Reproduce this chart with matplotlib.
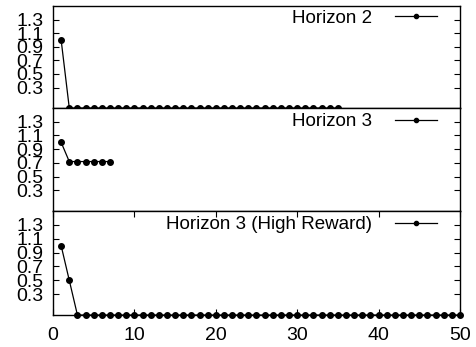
import matplotlib
matplotlib.use("Agg")
import matplotlib.pyplot as plt
import numpy as np

plt.rcParams["font.family"] = ["Liberation Sans", "DejaVu Sans"]

# horizon 2
x_h2 = list(range(1, 36))
y_h2 = [1.0] + [0.0] * 34
# horizon 3
x_h3 = list(range(1, 8))
y_h3 = [1.0, 0.72, 0.72, 0.72, 0.72, 0.72, 0.72]
# horizon 3, high reward
x_h3r = list(range(1, 51))
y_h3r = [1.0, 0.5] + [0.0] * 48

labels = ["Horizon 2", "Horizon 3", "Horizon 3 (High Reward)"]
yticks = [0.3, 0.5, 0.7, 0.9, 1.1, 1.3]
xticks = [0, 10, 20, 30, 40, 50]


def main():
    W, H = 477, 347
    fig = plt.figure(figsize=(W / 100, H / 100), dpi=100)
    left, right = 53, 460
    tops = [6, 108, 211]
    bots = [108, 211, 315]
    series = [(x_h2, y_h2), (x_h3, y_h3), (x_h3r, y_h3r)]
    for i, (xs, ys) in enumerate(series):
        ax = fig.add_axes([left / W, 1 - bots[i] / H, (right - left) / W, (bots[i] - tops[i]) / H])
        ax.plot(xs, ys, "-", color="black", lw=0.9, marker="o", ms=4.0,
                label=labels[i], clip_on=False, zorder=3)
        ax.set_xlim(0, 50)
        ax.set_ylim(0, 1.5)
        ax.set_yticks(yticks)
        ax.set_yticklabels([f"{v:.1f}" for v in yticks])
        ax.tick_params(axis="y", direction="in", left=True, right=True, length=4,
                       labelsize=14, pad=7, width=0.8)
        if i == 2:
            ax.set_xticks(xticks)
            ax.tick_params(axis="x", direction="in", top=True, bottom=True, length=4,
                           labelsize=14, pad=9, width=0.8)
        else:
            ax.set_xticks([])
        for s in ax.spines.values():
            s.set_linewidth(1.0)
        ax.legend(loc="upper right", frameon=False, markerfirst=False, fontsize=13.5,
                  handlelength=2.25, borderaxespad=0, borderpad=0, handletextpad=1.2,
                  markerscale=0.75, bbox_to_anchor=(0.9435, 0.95 if i else 0.965))
    fig.savefig("out.png", dpi=100)


if __name__ == "__main__":
    main()
